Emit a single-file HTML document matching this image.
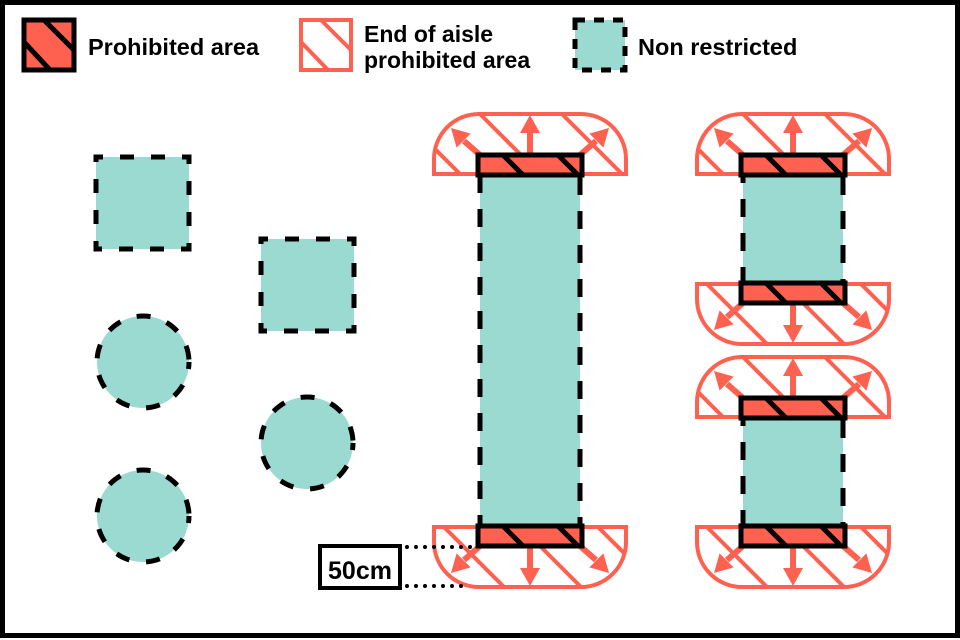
<!DOCTYPE html>
<html><head><meta charset="utf-8"><style>
html,body{margin:0;padding:0;background:#fff}
svg{display:block}
text{font-family:"Liberation Sans",Arial,sans-serif;font-weight:bold;fill:#000}
</style></head><body>
<svg width="960" height="640" viewBox="0 0 960 640" xmlns="http://www.w3.org/2000/svg">
<defs>
<clipPath id="ctop"><path d="M-44,19 L-44,4 A45,45 0 0 1 1,-41 L103,-41 A45,45 0 0 1 148,4 L148,19 Z"/></clipPath>
<clipPath id="cbot"><path d="M-44,1 L-44,16 A45,45 0 0 0 1,61 L103,61 A45,45 0 0 0 148,16 L148,1 Z"/></clipPath>
<clipPath id="cbar"><rect x="0" y="0" width="104" height="20"/></clipPath>
<g id="topcap">
<path d="M-44,19 L-44,4 A45,45 0 0 1 1,-41 L103,-41 A45,45 0 0 1 148,4 L148,19 Z" fill="#fff"/>
<g clip-path="url(#ctop)" stroke="#ff6150" stroke-width="4">
<line x1="-97" y1="-60" x2="3" y2="40"/>
<line x1="-17" y1="-60" x2="83" y2="40"/>
<line x1="65" y1="-60" x2="165" y2="40"/>
<line x1="147" y1="-60" x2="247" y2="40"/>
</g>
<path d="M-44,19 L-44,4 A45,45 0 0 1 1,-41 L103,-41 A45,45 0 0 1 148,4 L148,19 Z" fill="none" stroke="#ff6150" stroke-width="4"/>
<g stroke="#ff6150" stroke-width="6">
<line x1="52" y1="0" x2="52" y2="-24"/>
<line x1="2" y1="0" x2="-14" y2="-14"/>
<line x1="102" y1="0" x2="118" y2="-14"/>
</g>
<g fill="#ff6150">
<polygon points="52,-40 42,-22 62,-22"/>
<polygon points="-27,-27 -7.4,-21.4 -21.4,-7.4"/>
<polygon points="131,-27 111.4,-21.4 125.4,-7.4"/>
</g>
</g>
<g id="botcap">
<path d="M-44,1 L-44,16 A45,45 0 0 0 1,61 L103,61 A45,45 0 0 0 148,16 L148,1 Z" fill="#fff"/>
<g clip-path="url(#cbot)" stroke="#ff6150" stroke-width="4">
<line x1="-132" y1="-20" x2="-32" y2="80"/>
<line x1="-55" y1="-20" x2="45" y2="80"/>
<line x1="22" y1="-20" x2="122" y2="80"/>
<line x1="99" y1="-20" x2="199" y2="80"/>
<line x1="176" y1="-20" x2="276" y2="80"/>
</g>
<path d="M-44,1 L-44,16 A45,45 0 0 0 1,61 L103,61 A45,45 0 0 0 148,16 L148,1 Z" fill="none" stroke="#ff6150" stroke-width="4"/>
<g stroke="#ff6150" stroke-width="6">
<line x1="52" y1="20" x2="52" y2="44"/>
<line x1="2" y1="20" x2="-14" y2="34"/>
<line x1="102" y1="20" x2="118" y2="34"/>
</g>
<g fill="#ff6150">
<polygon points="52,60 42,42 62,42"/>
<polygon points="-27,47 -7.4,41.4 -21.4,27.4"/>
<polygon points="131,47 111.4,41.4 125.4,27.4"/>
</g>
</g>
<g id="bar">
<rect x="0" y="0" width="104" height="20" fill="#ff6150"/>
<g clip-path="url(#cbar)" stroke="#000" stroke-width="5">
<line x1="20" y1="-5" x2="50" y2="25"/>
<line x1="75" y1="-5" x2="105" y2="25"/>
</g>
<rect x="0" y="0" width="104" height="20" fill="none" stroke="#000" stroke-width="5"/>
</g>
</defs>
<rect x="2.5" y="2.5" width="955" height="633" fill="#fff" stroke="#000" stroke-width="5"/>

<!-- legend -->
<rect x="24" y="20" width="50" height="50" fill="#ff6150"/>
<g stroke="#000" stroke-width="5"><line x1="44" y1="20" x2="74" y2="50"/><line x1="24" y1="42" x2="50" y2="70"/></g>
<rect x="24" y="20" width="50" height="50" fill="none" stroke="#000" stroke-width="5"/>
<text x="88" y="55" font-size="23.5">Prohibited area</text>

<rect x="301" y="20" width="50" height="50" fill="#fff" stroke="#ff6150" stroke-width="4"/>
<g stroke="#ff6150" stroke-width="4"><line x1="321" y1="20" x2="351" y2="50"/><line x1="301" y1="42" x2="328" y2="70"/></g>
<text x="364" y="42" font-size="23">End of aisle</text>
<text x="364" y="68" font-size="23">prohibited area</text>

<rect x="575" y="20" width="50" height="50" fill="#9bdad0" stroke="#000" stroke-width="5" stroke-dasharray="10 9"/>
<text x="638" y="55" font-size="23.5">Non restricted</text>

<!-- left shapes -->
<g fill="#9bdad0" stroke="#000" stroke-width="5" stroke-dasharray="14 17" stroke-dashoffset="7">
<rect x="96" y="157" width="93" height="92"/>
<rect x="261" y="239" width="93" height="92"/>
<circle cx="143" cy="362" r="46"/>
<circle cx="143" cy="516" r="46"/>
<circle cx="307" cy="443" r="46"/>
</g>

<!-- big aisle -->
<use href="#topcap" x="478" y="155"/>
<use href="#botcap" x="478" y="526"/>
<rect x="480" y="175" width="100" height="351" fill="#9bdad0" stroke="#000" stroke-width="5" stroke-dasharray="18 16"/>
<use href="#bar" x="478" y="155"/>
<use href="#bar" x="478" y="526"/>

<!-- right upper -->
<use href="#topcap" x="741" y="155"/>
<use href="#botcap" x="741" y="283"/>
<rect x="743" y="175" width="100" height="108" fill="#9bdad0" stroke="#000" stroke-width="5" stroke-dasharray="18 16"/>
<use href="#bar" x="741" y="155"/>
<use href="#bar" x="741" y="283"/>

<!-- right lower -->
<use href="#topcap" x="741" y="398"/>
<use href="#botcap" x="741" y="526"/>
<rect x="743" y="418" width="100" height="108" fill="#9bdad0" stroke="#000" stroke-width="5" stroke-dasharray="18 16"/>
<use href="#bar" x="741" y="398"/>
<use href="#bar" x="741" y="526"/>

<!-- 50cm -->
<rect x="320" y="546" width="80" height="42" fill="#fff" stroke="#000" stroke-width="4"/>
<text x="360" y="579" font-size="25" text-anchor="middle">50cm</text>
<g stroke="#000" stroke-width="4" stroke-linecap="round" stroke-dasharray="0 9">
<line x1="407" y1="547" x2="475" y2="547"/>
<line x1="407" y1="586" x2="470" y2="586"/>
</g>
</svg>
</body></html>
